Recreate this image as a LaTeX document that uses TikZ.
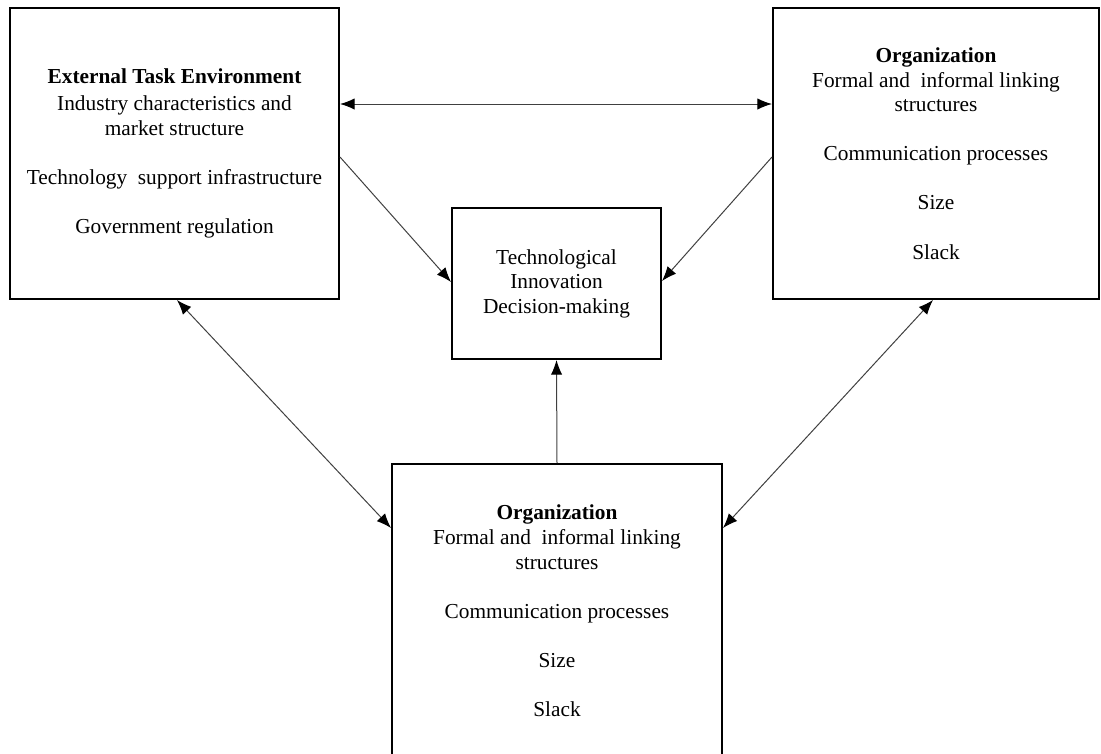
\documentclass[tikz,border=0pt]{standalone}
\usepackage{fontspec}
\setmainfont{Liberation Serif}
\usetikzlibrary{arrows.meta}
\begin{document}
\begin{tikzpicture}[x=0.75pt,y=-0.75pt,
  box/.style={draw=black, line width=1.5pt, inner sep=0pt, align=center,
    font=\fontsize{16}{18.4}\selectfont},
  conn/.style={line width=0.75pt, draw=black!75,
    {Latex[length=11pt,width=8.5pt,black]}-{Latex[length=11pt,width=8.5pt,black]}},
  oneway/.style={line width=0.75pt, draw=black!75, -{Latex[length=11pt,width=8.5pt,black]}}]
\useasboundingbox (0,0) rectangle (1101,754);
\clip (0,0) rectangle (1101,754);

\node[box, minimum width=329*0.75pt, minimum height=291*0.75pt] (L) at (174.5,153.5)
  {\textbf{External Task Environment}\\[2pt] Industry characteristics and\\ market structure\\[18.5pt]
   Technology\ \ support infrastructure\\[18.5pt] Government regulation};

\node[box, minimum width=326*0.75pt, minimum height=291*0.75pt] (R) at (936,153.5)
  {\textbf{Organization}\\ Formal and\ \ informal linking\\ structures\\[18.5pt]
   Communication processes\\[18.5pt] Size\\[18.5pt] Slack};

\node[box, minimum width=209*0.75pt, minimum height=151*0.75pt] (C) at (556.5,283.5)
  {Technological\\ Innovation\\ Decision-making};

\node[box, minimum width=330*0.75pt, minimum height=294*0.75pt] (B) at (557,611)
  {\textbf{Organization}\\ Formal and\ \ informal linking\\ structures\\[18.5pt]
   Communication processes\\[18.5pt] Size\\[18.5pt] Slack};

\draw[conn] (L.east |- 0,104) -- (R.west |- 0,104);
\draw[oneway] (L.east |- 0,157) -- (C.west |- 0,282);
\draw[oneway] (R.west |- 0,157) -- (C.east |- 0,281);
\draw[oneway] (B.north) -- (C.south);
\draw[conn] (L.south -| 177,0) -- (B.west |- 0,528);
\draw[conn] (R.south -| 933,0) -- (B.east |- 0,528);
\end{tikzpicture}
\end{document}
